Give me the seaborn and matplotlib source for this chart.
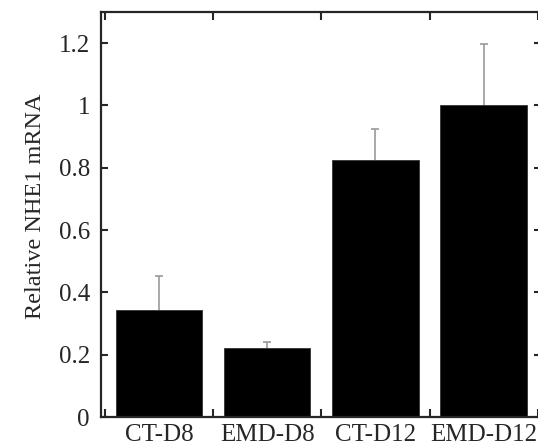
import numpy as np
import pandas as pd
import matplotlib
matplotlib.use("Agg")
import matplotlib.pyplot as plt
import seaborn as sns
from matplotlib.ticker import FixedLocator, FuncFormatter

groups = ["CT-D8", "EMD-D8", "CT-D12", "EMD-D12"]
means = [0.343, 0.221, 0.825, 1.0]
upper_err = [0.110, 0.020, 0.100, 0.197]
y_ticks = [0, 0.2, 0.4, 0.6, 0.8, 1.0, 1.2]

sns.set_style("ticks")
plt.rcParams["font.family"] = ["Liberation Serif", "DejaVu Serif"]

df = pd.DataFrame({"group": groups, "value": means})

fig = plt.figure(figsize=(5.38, 4.45), dpi=100)
ax = fig.add_axes([101 / 538, 28 / 445, 440 / 538, 405 / 445])

sns.barplot(data=df, x="group", y="value", order=groups, color="black",
            saturation=1, width=0.8, errorbar=None, edgecolor="#333333",
            linewidth=0.6, ax=ax, zorder=2)

# upper-only error bars, grey, with a cap on the top end only
eb = ax.errorbar(np.arange(len(groups)), means,
                 yerr=[np.zeros(len(groups)), upper_err],
                 fmt="none", ecolor="#9a9a9a", elinewidth=1.2, capsize=3,
                 capthick=1.2, zorder=1)
caplines = eb[1]
if len(caplines) == 2:
    caplines[0].set_visible(False)

ax.set_xlim(-0.535, 3.53)
ax.set_ylim(0, 1.3)

ax.yaxis.set_major_locator(FixedLocator(y_ticks))
ax.yaxis.set_major_formatter(FuncFormatter(lambda v, p: f"{v:g}"))

# category labels sit at bar centres; tick marks sit between bars
ax.set_xticks(np.arange(len(groups)))
ax.set_xticklabels(groups)
ax.set_xticks(np.arange(-0.5, len(groups) + 0.5, 1.0), minor=True)
ax.tick_params(axis="x", which="major", length=0, labelsize=18, pad=5)
ax.tick_params(axis="x", which="minor", direction="in", length=6,
               width=1.5, top=True, bottom=True)
ax.tick_params(axis="y", which="major", direction="in", length=5,
               width=1.5, labelsize=18, pad=8, right=True, left=True)

for s in ax.spines.values():
    s.set_linewidth(1.6)
    s.set_visible(True)

ax.set_xlabel("")
ax.set_ylabel("Relative NHE1 mRNA", fontsize=17.5)
ax.yaxis.set_label_coords(-0.125, 0.52)

fig.savefig("out.png", dpi=100)
